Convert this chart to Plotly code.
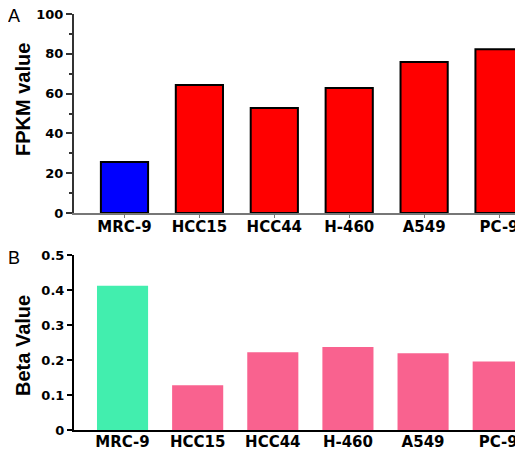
import plotly.graph_objects as go

cells = ["MRC-9", "HCC15", "HCC44", "H-460", "A549", "PC-9"]
fpkm = [25.6, 64.3, 52.8, 62.8, 75.9, 82.3]
beta = [0.412, 0.128, 0.222, 0.237, 0.219, 0.196]
fpkm_colors = ["#0000FF", "#FF0000", "#FF0000", "#FF0000", "#FF0000", "#FF0000"]
beta_colors = ["#42EEAE", "#F9628F", "#F9628F", "#F9628F", "#F9628F", "#F9628F"]
fpkm_ticks = [0, 20, 40, 60, 80, 100]
beta_ticks = [0, 0.1, 0.2, 0.3, 0.4, 0.5]
beta_ticklabels = ["0", "0.1", "0.2", "0.3", "0.4", "0.5"]

OFF = 8  # page body margin
W, H = 523 - OFF, 450 - OFF


def px(x):
    return (x - OFF) / W


def py(y):
    return 1 - (y - OFF) / H


tickfont = dict(family="DejaVu Sans", size=13, color="black", weight="bold")
xtickfont = dict(family="DejaVu Sans", size=15, color="black", weight="bold")

fig = go.Figure()
fig.add_trace(go.Bar(x=cells, y=fpkm, marker=dict(color=fpkm_colors, line=dict(color="black", width=2)),
                     width=0.63, xaxis="x", yaxis="y", showlegend=False))
fig.add_trace(go.Bar(x=cells, y=beta, marker=dict(color=beta_colors, line=dict(width=0)),
                     width=0.68, xaxis="x2", yaxis="y2", showlegend=False))

fig.update_layout(
    width=W, height=H,
    margin=dict(l=0, r=0, t=0, b=0),
    paper_bgcolor="white", plot_bgcolor="white",
    xaxis=dict(domain=[px(74), 1], anchor="y", range=[-0.674, 5.32], showline=True, linecolor="#777777",
               linewidth=1.5, ticks="outside", ticklen=3, tickcolor="#777777", tickfont=xtickfont,
               showgrid=False, zeroline=False, automargin=False, ticklabelstandoff=-4),
    yaxis=dict(domain=[py(213), py(14)], anchor="x", range=[0, 100], tickvals=fpkm_ticks,
               showline=True, linecolor="#333333", linewidth=2, ticks="outside", ticklen=6,
               tickcolor="#333333", tickwidth=1.5, tickfont=tickfont, showgrid=False, zeroline=False,
               automargin=False, ticklabeloverflow="allow",
               minor=dict(ticks="outside", ticklen=3, dtick=10, tickcolor="#333333", tickwidth=1.5)),
    xaxis2=dict(domain=[px(74), 1], anchor="y2", range=[-0.646, 5.33], showline=True, linecolor="black",
                linewidth=2, ticks="", tickfont=xtickfont, showgrid=False, zeroline=False, automargin=False,
                ticklabelstandoff=-3),
    yaxis2=dict(domain=[py(430), py(255)], anchor="x2", range=[0, 0.5], tickvals=beta_ticks,
                ticktext=beta_ticklabels, showline=True, linecolor="black", linewidth=2, ticks="outside",
                ticklen=5, tickcolor="black", tickwidth=1.5, tickfont=tickfont, showgrid=False,
                zeroline=False, automargin=False, ticklabeloverflow="allow"),
    annotations=[
        dict(text="A", x=px(14), y=py(16), xref="paper", yref="paper", showarrow=False,
             font=dict(family="Liberation Sans", size=18, color="black"), xanchor="center", yanchor="middle"),
        dict(text="B", x=px(14), y=py(258), xref="paper", yref="paper", showarrow=False,
             font=dict(family="Liberation Sans", size=18, color="black"), xanchor="center", yanchor="middle"),
        dict(text="FPKM value", x=px(23), y=py(100), xref="paper", yref="paper", showarrow=False,
             textangle=-90, font=dict(family="Liberation Sans", size=20, color="black", weight="bold"),
             xanchor="center", yanchor="middle"),
        dict(text="Beta Value", x=px(23), y=py(346), xref="paper", yref="paper", showarrow=False,
             textangle=-90, font=dict(family="Liberation Sans", size=20, color="black", weight="bold"),
             xanchor="center", yanchor="middle"),
    ],
)

fig.write_html("out.html")
